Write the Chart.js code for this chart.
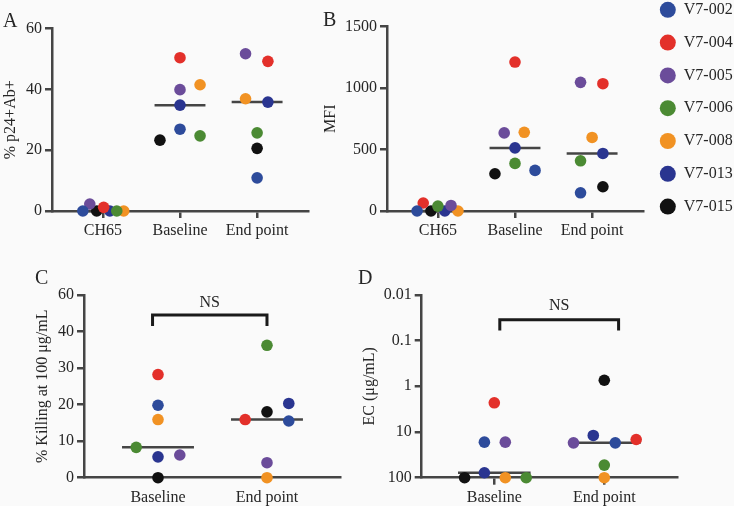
<!DOCTYPE html>
<html>
<head>
<meta charset="utf-8">
<script src="https://cdn.jsdelivr.net/npm/chart.js@4"></script>
<style>
  html, body { margin: 0; padding: 0; background: #fafafa; }
  #fig { position: relative; width: 734px; height: 506px; overflow: hidden; background: #fafafa; }
  #fig canvas { position: absolute; }
</style>
</head>
<body>
<div id="fig">
  <canvas id="chartA" width="315" height="245" style="left:3px;top:0px;width:315px;height:245px"></canvas>
  <canvas id="chartB" width="412" height="262" style="left:323px;top:-15px;width:412px;height:262px"></canvas>
  <canvas id="chartC" width="315" height="256" style="left:35px;top:250px;width:315px;height:256px"></canvas>
  <canvas id="chartD" width="330" height="256" style="left:358px;top:250px;width:330px;height:256px"></canvas>
</div>
<script>
const SERIF = '"Liberation Serif", "Times New Roman", serif';
const INK = '#262626';
const AXIS = '#454545';

// Subjects, in legend order; every value list below follows this order
const SUBJECTS = ['V7-002', 'V7-004', 'V7-005', 'V7-006', 'V7-008', 'V7-013', 'V7-015'];
const COLORS = ['#2d4b9b', '#e3302a', '#6b4c9a', '#4b8a33', '#f19223', '#2a3590', '#111111'];

const GROUPS_AB = ['CH65', 'Baseline', 'End point'];
const GROUPS_CD = ['Baseline', 'End point'];

// A: % p24+Ab+
const A_CH65 = [0, 1.2, 2.3, 0, 0, 0, 0];
const A_BASE = [26.9, 50.4, 39.9, 24.7, 41.5, 34.8, 23.3];
const A_END  = [10.9, 49.2, 51.7, 25.7, 36.9, 35.8, 20.6];
// horizontal scatter of the dots inside a column (in column widths)
const A_SPREAD_CH65 = [-0.26, 0.01, -0.17, 0.18, 0.27, 0.09, -0.08];
const A_SPREAD_BASE = [0, 0, 0, 0.26, 0.26, 0, -0.26];
const A_SPREAD_END  = [0, 0.14, -0.15, 0, -0.15, 0.14, 0];

// B: MFI
const B_CH65 = [0, 65, 45, 40, 0, 0, 0];
const B_BASE = [330, 1211, 635, 387, 640, 513, 303];
const B_END  = [148, 1035, 1046, 408, 598, 468, 197];
const B_SPREAD_CH65 = [-0.27, -0.19, 0.17, 0, 0.26, 0.09, -0.09];
const B_SPREAD_BASE = [0.26, 0, -0.14, 0, 0.12, 0, -0.26];
const B_SPREAD_END  = [-0.15, 0.14, -0.15, -0.15, 0, 0.14, 0.14];

// C: % killing at 100 ug/mL
const C_BASE = [19.8, 28.2, 6.2, 8.3, 15.9, 5.7, 0];
const C_END  = [15.5, 15.9, 4.1, 36.2, 0, 20.3, 18.0];
const C_SPREAD_BASE = [0, 0, 0.2, -0.2, 0, 0, 0];
const C_SPREAD_END  = [0.2, -0.2, 0, 0, 0, 0.2, 0];

// D: EC (ug/mL), log axis drawn upside down
const D_BASE = [16.7, 2.3, 16.7, 100, 100, 78, 100];
const D_END  = [17.3, 14.6, 17.3, 53, 100, 11.9, 0.74];
const D_SPREAD_BASE = [-0.09, 0, 0.1, 0.29, 0.1, -0.09, -0.27];
const D_SPREAD_END  = [0.1, 0.29, -0.28, 0, 0, -0.1, 0];

// NS brackets: column span, then foot and top values
const C_BRACKET_X = [-0.05, 1.0];
const C_BRACKET_Y = [43, 49];
const D_BRACKET_X = [0.05, 1.13];
const D_BRACKET_Y = [0.06, 0.035];

Chart.defaults.font.family = SERIF;
Chart.defaults.color = INK;

function median(arr) {
  const s = [...arr].sort((a, b) => a - b);
  const m = Math.floor(s.length / 2);
  return s.length % 2 ? s[m] : (s[m - 1] + s[m]) / 2;
}

// Panel C axis is broken above 40: 40-60 takes the room of 10 units
const squash = v => v <= 40 ? v : 40 + (v - 40) / 2;
const unsquash = v => v <= 40 ? v : 40 + (v - 40) * 2;
const same = v => v;

function buildDatasets(columns, spreads, yMap) {
  const sets = SUBJECTS.map((name, s) => ({
    type: 'scatter',
    label: name,
    data: columns.map((col, g) => ({ x: g + spreads[g][s], y: yMap(col[s]) })),
    backgroundColor: COLORS[s],
    borderWidth: 0,
    pointRadius: 5.8,
    pointHoverRadius: 5.8,
    clip: false,
    order: 0
  }));
  columns.forEach((col, g) => {
    const m = yMap(median(col));
    sets.push({
      type: 'line',
      label: 'median',
      data: [{ x: g - 0.33, y: m }, { x: g + 0.33, y: m }],
      borderColor: AXIS,
      borderWidth: 2.5,
      pointRadius: 0,
      clip: false,
      order: 1
    });
  });
  return sets;
}

function bracketDataset(xs, ys, yMap) {
  const foot = yMap(ys[0]), top = yMap(ys[1]);
  return {
    type: 'line',
    label: 'bracket',
    data: [{ x: xs[0], y: foot }, { x: xs[0], y: top }, { x: xs[1], y: top }, { x: xs[1], y: foot }],
    borderColor: '#1a1a1a',
    borderWidth: 3,
    borderJoinStyle: 'miter',
    borderCapStyle: 'butt',
    pointRadius: 0,
    clip: false,
    order: 1
  };
}

// "NS" above a bracket
const nsLabel = {
  id: 'nsLabel',
  afterDatasetsDraw(chart, args, opts) {
    const { ctx, scales: { x, y } } = chart;
    ctx.save();
    ctx.font = '16px ' + SERIF;
    ctx.fillStyle = INK;
    ctx.textAlign = 'center';
    ctx.textBaseline = 'middle';
    ctx.fillText(opts.text, x.getPixelForValue(opts.x), y.getPixelForValue(opts.y) - opts.lift);
    ctx.restore();
  }
};

function xScale(groups, min, max, height, showTicks, dash) {
  return {
    type: 'linear',
    min, max,
    afterBuildTicks: s => { s.ticks = groups.map((g, i) => ({ value: i })); },
    afterFit: s => { s.height = height; },
    ticks: { callback: (v, i) => groups[i], font: { size: 16 }, color: INK, padding: 3, maxRotation: 0, autoSkip: false },
    grid: { display: true, drawOnChartArea: false, drawTicks: true, tickLength: 7,
            tickColor: showTicks ? AXIS : 'rgba(0,0,0,0)', tickWidth: 2.5, color: AXIS, lineWidth: 2.5 },
    border: { display: true, color: AXIS, width: 2.5, dash: dash || [] }
  };
}

function yScale(extra, width, title, titlePad) {
  return Object.assign({
    afterFit: s => { s.width = width; },
    title: { display: true, text: title, color: INK, font: { size: 16, lineHeight: 1 }, padding: { top: titlePad, bottom: 0 } },
    grid: { display: true, drawOnChartArea: false, drawTicks: true, tickLength: 7, tickColor: AXIS, tickWidth: 2.5, color: AXIS, lineWidth: 2.5 },
    border: { display: true, color: AXIS, width: 2.5 }
  }, extra);
}

function letter(text, padTop, padBottom) {
  return { display: true, text, align: 'start', color: INK,
           font: { size: 20, weight: 'normal', lineHeight: 0.5 }, padding: { top: padTop, bottom: padBottom } };
}

const plainTicks = { callback: v => String(v), font: { size: 16 }, color: INK, padding: 3 };
const common = { responsive: false, animation: false, events: [] };

// Panel A
new Chart(document.getElementById('chartA'), {
  type: 'scatter',
  data: { datasets: buildDatasets([A_CH65, A_BASE, A_END], [A_SPREAD_CH65, A_SPREAD_BASE, A_SPREAD_END], same) },
  options: Object.assign({}, common, {
    layout: { padding: { left: 0, right: 10, top: 0, bottom: 0 } },
    plugins: { legend: { display: false }, tooltip: { enabled: false }, title: letter('A', 16.25, 2.25) },
    scales: {
      x: xScale(GROUPS_AB, -0.66, 2.66, 34, true),
      y: yScale({ min: 0, max: 60, ticks: Object.assign({ stepSize: 20 }, plainTicks) }, 49, '% p24+Ab+', 0)
    }
  })
});

// Panel B, carries the subject legend
new Chart(document.getElementById('chartB'), {
  type: 'scatter',
  data: { datasets: buildDatasets([B_CH65, B_BASE, B_END], [B_SPREAD_CH65, B_SPREAD_BASE, B_SPREAD_END], same) },
  options: Object.assign({}, common, {
    layout: { padding: 0 },
    plugins: {
      tooltip: { enabled: false },
      title: letter('B', 30.25, 1.25),
      legend: {
        display: true, position: 'right', align: 'start', maxWidth: 92,
        labels: {
          usePointStyle: true, pointStyle: 'circle', pointStyleWidth: 16, boxHeight: 11.3,
          padding: 16.8, color: INK, font: { size: 16 },
          filter: item => item.datasetIndex < SUBJECTS.length
        }
      }
    },
    scales: {
      x: xScale(GROUPS_AB, -0.66, 2.66, 36, true),
      y: yScale({ min: 0, max: 1500, ticks: Object.assign({ stepSize: 500 }, plainTicks) }, 64, 'MFI', 0)
    }
  })
});

// Panel C
const cSets = buildDatasets([C_BASE, C_END], [C_SPREAD_BASE, C_SPREAD_END], squash);
cSets.push(bracketDataset(C_BRACKET_X, C_BRACKET_Y, squash));
new Chart(document.getElementById('chartC'), {
  type: 'scatter',
  data: { datasets: cSets },
  plugins: [nsLabel],
  options: Object.assign({}, common, {
    layout: { padding: { left: 0, right: 10, top: 0, bottom: 0 } },
    plugins: {
      legend: { display: false }, tooltip: { enabled: false },
      title: letter('C', 23.25, 11.55),
      nsLabel: { text: 'NS', x: (C_BRACKET_X[0] + C_BRACKET_X[1]) / 2, y: squash(C_BRACKET_Y[1]), lift: 12 }
    },
    scales: {
      x: xScale(GROUPS_CD, -0.679, 1.67, 28.3, false, [2, 1]),
      y: yScale({
        min: 0, max: squash(60),
        afterBuildTicks: s => { s.ticks = [0, 10, 20, 30, 40, 60].map(v => ({ value: squash(v) })); },
        ticks: { callback: v => String(unsquash(v)), font: { size: 16 }, color: INK, padding: 3 }
      }, 49, '% Killing at 100 μg/mL', 0)
    }
  })
});

// Panel D
const dSets = buildDatasets([D_BASE, D_END], [D_SPREAD_BASE, D_SPREAD_END], same);
dSets.push(bracketDataset(D_BRACKET_X, D_BRACKET_Y, same));
new Chart(document.getElementById('chartD'), {
  type: 'scatter',
  data: { datasets: dSets },
  plugins: [nsLabel],
  options: Object.assign({}, common, {
    layout: { padding: { left: 0, right: 11, top: 0, bottom: 0 } },
    plugins: {
      legend: { display: false }, tooltip: { enabled: false },
      title: letter('D', 23.25, 11.55),
      nsLabel: { text: 'NS', x: (D_BRACKET_X[0] + D_BRACKET_X[1]) / 2, y: D_BRACKET_Y[1], lift: 14 }
    },
    scales: {
      x: xScale(GROUPS_CD, -0.66, 1.661, 28.3, true),
      y: yScale({
        type: 'logarithmic', reverse: true, min: 0.01, max: 100,
        afterBuildTicks: s => { s.ticks = [0.01, 0.1, 1, 10, 100].map(v => ({ value: v })); },
        ticks: plainTicks
      }, 63.7, 'EC (μg/mL)', 4)
    }
  })
});
</script>
</body>
</html>
